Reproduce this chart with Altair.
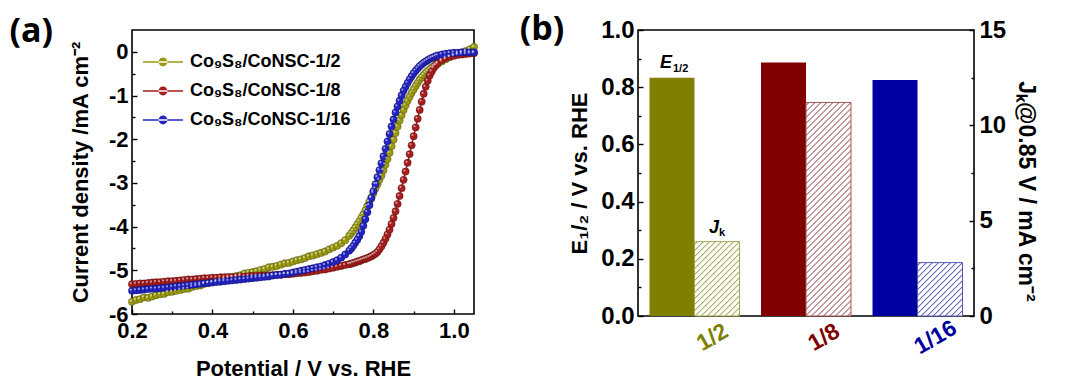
import math
import altair as alt
import pandas as pd

# ---------------- data: panel (a) LSV curves ----------------
potential = [
    0.20, 0.21, 0.22, 0.23, 0.24, 0.25, 0.26, 0.27, 0.28, 0.29,
    0.30, 0.31, 0.32, 0.33, 0.34, 0.35, 0.36, 0.37, 0.38, 0.39,
    0.40, 0.41, 0.42, 0.43, 0.44, 0.45, 0.46, 0.47, 0.48, 0.49,
    0.50, 0.51, 0.52, 0.53, 0.54, 0.55, 0.56, 0.57, 0.58, 0.59,
    0.60, 0.61, 0.62, 0.63, 0.64, 0.65, 0.66, 0.67, 0.68, 0.69,
    0.70, 0.71, 0.72, 0.73, 0.74,
    0.745, 0.75, 0.755, 0.76, 0.765, 0.77, 0.775, 0.78, 0.785, 0.79,
    0.795, 0.80, 0.805, 0.81, 0.815, 0.82, 0.825, 0.83, 0.835, 0.84,
    0.845, 0.85, 0.855, 0.86, 0.865, 0.87, 0.875, 0.88, 0.885, 0.89,
    0.895, 0.90, 0.905, 0.91, 0.915, 0.92, 0.925, 0.93, 0.935, 0.94,
    0.945, 0.95, 0.955, 0.96,
    0.97, 0.98, 0.99, 1.00, 1.01, 1.02, 1.03, 1.04, 1.05,
]

j_half = [
    -5.72, -5.68, -5.66, -5.62, -5.63, -5.60, -5.57, -5.55, -5.54, -5.50,
    -5.49, -5.47, -5.45, -5.43, -5.42, -5.38, -5.36, -5.35, -5.31, -5.29,
    -5.27, -5.25, -5.22, -5.20, -5.18, -5.16, -5.13, -5.11, -5.07, -5.06,
    -5.04, -5.02, -4.99, -4.97, -4.93, -4.92, -4.90, -4.87, -4.84, -4.83,
    -4.80, -4.77, -4.75, -4.72, -4.68, -4.66, -4.63, -4.60, -4.57, -4.52,
    -4.48, -4.44, -4.38, -4.31, -4.21,
    -4.15, -4.09, -4.02, -3.95, -3.88, -3.80, -3.72, -3.63, -3.53, -3.43,
    -3.33, -3.23, -3.13, -3.03, -2.93, -2.83, -2.71, -2.58, -2.45, -2.31,
    -2.16, -2.01, -1.86, -1.71, -1.57, -1.45, -1.33, -1.22, -1.12, -1.03,
    -0.94, -0.86, -0.78, -0.71, -0.64, -0.58, -0.53, -0.48, -0.44, -0.40,
    -0.36, -0.33, -0.30, -0.27,
    -0.22, -0.17, -0.12, -0.08, -0.05, -0.02, 0.02, 0.06, 0.11,
]

j_eighth = [
    -5.32, -5.31, -5.30, -5.30, -5.29, -5.28, -5.27, -5.27, -5.26, -5.25,
    -5.25, -5.24, -5.23, -5.22, -5.21, -5.21, -5.20, -5.19, -5.18, -5.18,
    -5.17, -5.17, -5.16, -5.16, -5.15, -5.15, -5.15, -5.14, -5.14, -5.13,
    -5.13, -5.13, -5.12, -5.12, -5.11, -5.11, -5.10, -5.10, -5.09, -5.09,
    -5.08, -5.07, -5.06, -5.05, -5.04, -5.02, -5.01, -4.99, -4.98, -4.96,
    -4.94, -4.92, -4.90, -4.88, -4.86,
    -4.85, -4.83, -4.82, -4.80, -4.79, -4.77, -4.75, -4.74, -4.72, -4.70,
    -4.68, -4.65, -4.62, -4.58, -4.52, -4.45, -4.37, -4.28, -4.18, -4.07,
    -3.94, -3.80, -3.65, -3.48, -3.30, -3.12, -2.93, -2.74, -2.54, -2.34,
    -2.14, -1.93, -1.73, -1.53, -1.33, -1.14, -0.96, -0.80, -0.66, -0.54,
    -0.45, -0.37, -0.31, -0.26,
    -0.19, -0.14, -0.11, -0.09, -0.07, -0.06, -0.05, -0.04, -0.03,
]

j_sixteenth = [
    -5.47, -5.46, -5.45, -5.44, -5.43, -5.42, -5.42, -5.41, -5.40, -5.39,
    -5.38, -5.37, -5.36, -5.35, -5.34, -5.33, -5.32, -5.31, -5.30, -5.29,
    -5.28, -5.27, -5.26, -5.25, -5.24, -5.23, -5.22, -5.21, -5.20, -5.19,
    -5.18, -5.17, -5.16, -5.15, -5.14, -5.12, -5.11, -5.10, -5.08, -5.07,
    -5.05, -5.03, -5.01, -4.99, -4.97, -4.95, -4.93, -4.91, -4.88, -4.85,
    -4.81, -4.77, -4.71, -4.64, -4.55,
    -4.50, -4.44, -4.37, -4.30, -4.22, -4.12, -3.98, -3.83, -3.67, -3.51,
    -3.35, -3.19, -3.03, -2.87, -2.71, -2.55, -2.39, -2.22, -2.05, -1.88,
    -1.71, -1.55, -1.39, -1.25, -1.12, -1.00, -0.89, -0.80, -0.71, -0.63,
    -0.56, -0.49, -0.43, -0.38, -0.33, -0.29, -0.25, -0.22, -0.19, -0.16,
    -0.14, -0.12, -0.10, -0.08,
    -0.06, -0.04, -0.03, -0.02, -0.02, -0.01, -0.01, -0.01, -0.01,
]

series_labels = ["Co₉S₈/CoNSC-1/2", "Co₉S₈/CoNSC-1/8", "Co₉S₈/CoNSC-1/16"]
curve_colors = ["#9b9b12", "#a81d1d", "#2424c4"]

# ---------------- data: panel (b) bars ----------------
ratios = ["1/2", "1/8", "1/16"]
e_half_wave = [0.833, 0.886, 0.825]
jk_085 = [3.9, 11.2, 2.8]
bar_colors = ["#808000", "#800000", "#0000a0"]
hatch_colors = ["#a3a352", "#a35656", "#5858b4"]

FONT = "Liberation Sans"
BLACK = "#000000"

# ---------------- panel (a) ----------------
rows = []
for lab, js in zip(series_labels, [j_half, j_eighth, j_sixteenth]):
    for v, j in zip(potential, js):
        rows.append({"V": v, "J": j, "sample": lab})
lsv = pd.DataFrame(rows)

LW, LH = 342, 284
xs = alt.Scale(domain=[0.2, 1.05], nice=False, zero=False)
ys = alt.Scale(domain=[-6, 0.5], nice=False, zero=False)


def inward_axis(orient, values, tick, labels=True, **kw):
    return alt.Axis(
        orient=orient, values=values, domain=False, grid=False, ticks=True,
        tickSize={"expr": str(-tick)}, tickWidth=1.4, tickColor=BLACK,
        labels=labels, **kw)


lab_style = dict(labelFont=FONT, labelFontWeight="bold", labelColor=BLACK)
tit_style = dict(titleFont=FONT, titleFontWeight="bold", titleColor=BLACK)

x_major = inward_axis("bottom", [0.2, 0.4, 0.6, 0.8, 1.0], 5, format=".1f",
                      labelFontSize=22, labelPadding=11, title="Potential / V vs. RHE",
                      titleFontSize=22, titlePadding=17, **lab_style, **tit_style)
x_minor = inward_axis("bottom", [0.3, 0.5, 0.7, 0.9], 3, labels=False, title=None)
y_major = inward_axis("left", [-6, -5, -4, -3, -2, -1, 0], 5,
                      labelExpr="toString(datum.value)", labelFontSize=22,
                      labelPadding=9, title="Current density /mA cm⁻²",
                      titleFontSize=22, titlePadding=16, **lab_style, **tit_style)
y_minor = inward_axis("left", [-5.5, -4.5, -3.5, -2.5, -1.5, -0.5], 3, labels=False, title=None)

legend_symbol = ("M-2.5,-0.1L2.5,-0.1L2.5,0.1L-2.5,0.1Z"
                 "M-0.55,0A0.55,0.55 0 1,0 0.55,0A0.55,0.55 0 1,0 -0.55,0Z")

line_layers = []
for i, lab in enumerate(series_labels):
    line_layers.append(
        alt.Chart(lsv).transform_filter(alt.datum.sample == lab)
        .mark_line(strokeWidth=1.4, stroke=curve_colors[i])
        .encode(
            x=alt.X("V:Q", scale=xs, axis=x_major if i == 0 else None),
            y=alt.Y("J:Q", scale=ys, axis=y_major if i == 0 else None),
            order="V:Q",
        )
    )

beads = alt.Chart(lsv).mark_point(
    filled=True, size=55, opacity=1, stroke=BLACK, strokeOpacity=0.35, strokeWidth=0.7
).encode(
    x=alt.X("V:Q", scale=xs, axis=x_minor),
    y=alt.Y("J:Q", scale=ys, axis=y_minor),
    color=alt.Color(
        "sample:N",
        scale=alt.Scale(domain=series_labels, range=curve_colors),
        legend=alt.Legend(
            title=None, orient="none", legendX=22, legendY=23,
            symbolType=legend_symbol, symbolSize=256, symbolStrokeWidth=0,
            labelFont=FONT, labelFontSize=18, labelFontWeight="bold", labelColor=BLACK,
            labelOffset=18, rowPadding=11, labelLimit=300,
        ),
    ),
)

shine = alt.Chart(lsv).mark_point(
    filled=True, size=55, fill="white", opacity=0.55,
    shape="M-0.6,-0.3A0.28,0.28 0 1,0 -0.04,-0.3A0.28,0.28 0 1,0 -0.6,-0.3Z",
).encode(
    x=alt.X("V:Q", scale=xs, axis=None),
    y=alt.Y("J:Q", scale=ys, axis=None),
)

panel_a = alt.layer(*line_layers, beads, shine).resolve_axis(x="independent", y="independent").properties(
    width=LW, height=LH,
    title=alt.TitleParams("(a)", anchor="start", frame="bounds", font="Open Sans",
                          fontSize=34, fontWeight="bold", color=BLACK, dx=-60, dy=19, offset=0),
)

# ---------------- panel (b) ----------------
bdf = pd.DataFrame({"ratio": ratios, "E": e_half_wave, "Jk": jk_085})
RW, RH = 336, 286
P_INNER, P_OUTER = 0.193, 0.103
step = RW / (len(ratios) - P_INNER + 2 * P_OUTER)
bar_w = step * (1 - P_INNER) / 2

xband = alt.Scale(domain=ratios, paddingInner=P_INNER, paddingOuter=P_OUTER)
off_scale = alt.Scale(domain=["E", "J"], paddingInner=0, paddingOuter=0)
e_scale = alt.Scale(domain=[0, 1], nice=False, zero=True)
j_scale = alt.Scale(domain=[0, 15], nice=False, zero=True)

label_color = {
    "condition": [
        {"test": "datum.value === '1/2'", "value": bar_colors[0]},
        {"test": "datum.value === '1/8'", "value": bar_colors[1]},
    ],
    "value": bar_colors[2],
}
x_axis_b = alt.Axis(title=None, ticks=False, domain=False, grid=False, labelAngle=330,
                    labelFont=FONT, labelFontSize=23, labelFontWeight="bold",
                    labelColor=label_color, labelPadding=21, labelAlign="center",
                    labelBaseline="middle", labelOffset=18)
x_b = alt.X("ratio:N", scale=xband, sort=ratios, axis=x_axis_b)

e_major = inward_axis("left", [0, 0.2, 0.4, 0.6, 0.8, 1.0], 5, format=".1f",
                      labelFontSize=24, labelPadding=9, title="E₁/₂ / V vs. RHE",
                      titleFontSize=22, titlePadding=9, **lab_style, **tit_style)
e_minor = inward_axis("left", [0.1, 0.3, 0.5, 0.7, 0.9], 3, labels=False, title=None)
j_major = inward_axis("right", [0, 5, 10, 15], 5, format="d",
                      labelFontSize=24, labelPadding=10, title="Jₖ@0.85 V / mA cm⁻²",
                      titleFontSize=23, titlePadding=8, titleY=RH / 2 + 18,
                      **lab_style, **tit_style)
j_minor = inward_axis("right", [2.5, 7.5, 12.5], 3, labels=False, title=None)


def hatch_gradient(color, height, width, spacing=6.0, thick=0.9):
    ih, iw = 1.0 / height, 1.0 / width
    s = (ih + iw) / (ih * ih + iw * iw)
    span = (width + height) / math.sqrt(2)
    period = spacing / math.sqrt(2)
    n = int(span / period) + 1
    w = thick / span
    stops = [{"offset": 0, "color": "white"}]
    last = 0.0
    for k in range(n):
        c = (k + 0.5) * period / span
        for off, col in ((c - w, "white"), (c, color), (c + w, "white")):
            off = min(max(off, last), 1.0)
            stops.append({"offset": round(off, 5), "color": col})
            last = off
    stops.append({"offset": 1, "color": "white"})
    return {"gradient": "linear", "x1": 0, "y1": 0, "x2": s * ih, "y2": s * iw, "stops": stops}


e_bars = alt.Chart(bdf).transform_calculate(kind="'E'").mark_bar().encode(
    x=x_b,
    xOffset=alt.XOffset("kind:N", scale=off_scale),
    y=alt.Y("E:Q", scale=e_scale, axis=e_major),
    fill=alt.Fill("ratio:N", scale=alt.Scale(domain=ratios, range=bar_colors), legend=None),
)
e_ticks = alt.Chart(bdf).transform_calculate(kind="'E'").mark_bar(opacity=0).encode(
    x=x_b, xOffset=alt.XOffset("kind:N", scale=off_scale),
    y=alt.Y("E:Q", scale=e_scale, axis=e_minor),
)

j_layers = []
for i, r in enumerate(ratios):
    h = jk_085[i] / 15 * RH
    grad = hatch_gradient(hatch_colors[i], h, bar_w)
    j_layers.append(
        alt.Chart(bdf).transform_filter(alt.datum.ratio == r).transform_calculate(kind="'J'")
        .mark_bar(fill=grad, stroke=hatch_colors[i], strokeWidth=1)
        .encode(
            x=x_b, xOffset=alt.XOffset("kind:N", scale=off_scale),
            y=alt.Y("Jk:Q", scale=j_scale, axis=j_major if i == 0 else None),
        )
    )
j_ticks = alt.Chart(bdf).transform_calculate(kind="'J'").mark_bar(opacity=0).encode(
    x=x_b, xOffset=alt.XOffset("kind:N", scale=off_scale),
    y=alt.Y("Jk:Q", scale=j_scale, axis=j_minor),
)

first = bdf[bdf["ratio"] == ratios[0]]
txt_common = dict(font=FONT, fontWeight="bold", color=BLACK, baseline="alphabetic")
e_txt = alt.Chart(first).transform_calculate(kind="'E'").mark_text(
    text="E", fontSize=18, fontStyle="italic", dx=-6, dy=-10, **txt_common
).encode(x=x_b, xOffset=alt.XOffset("kind:N", scale=off_scale),
         y=alt.Y("E:Q", scale=e_scale, axis=None))
e_sub = alt.Chart(first).transform_calculate(kind="'E'").mark_text(
    text="1/2", fontSize=11, align="left", dx=1, dy=-6, **txt_common
).encode(x=x_b, xOffset=alt.XOffset("kind:N", scale=off_scale),
         y=alt.Y("E:Q", scale=e_scale, axis=None))
j_txt = alt.Chart(first).transform_calculate(kind="'J'").mark_text(
    text="J", fontSize=18, fontStyle="italic", dx=-3, dy=-9, **txt_common
).encode(x=x_b, xOffset=alt.XOffset("kind:N", scale=off_scale),
         y=alt.Y("Jk:Q", scale=j_scale, axis=None))
j_sub = alt.Chart(first).transform_calculate(kind="'J'").mark_text(
    text="k", fontSize=11, align="left", dx=2, dy=-6, **txt_common
).encode(x=x_b, xOffset=alt.XOffset("kind:N", scale=off_scale),
         y=alt.Y("Jk:Q", scale=j_scale, axis=None))

panel_b = alt.layer(e_bars, e_ticks, *j_layers, j_ticks, e_txt, e_sub, j_txt, j_sub).resolve_scale(
    y="independent"
).resolve_axis(y="independent").properties(
    width=RW, height=RH,
    title=alt.TitleParams("(b)", anchor="start", frame="bounds", font="Open Sans",
                          fontSize=34, fontWeight="bold", color=BLACK, dx=-49, dy=29, offset=0),
)

chart = alt.hconcat(panel_a, panel_b, spacing=38).properties(
    padding={"left": 8, "top": 12, "right": 4, "bottom": 2},
    background="white",
).configure_view(stroke=BLACK, strokeWidth=1.6).configure_axis(labelFlush=False)

chart.save("out.html", embed_options={"renderer": "svg", "actions": False})
